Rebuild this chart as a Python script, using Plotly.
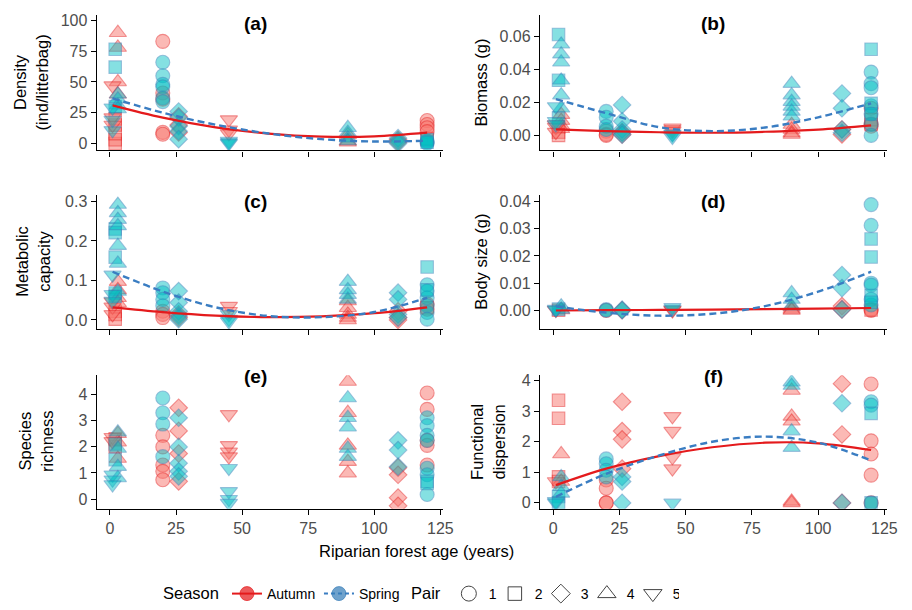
import plotly.graph_objects as go

# ---------------- data ----------------
# sites: (pair, age) in this order
SITE_PAIR = [1, 1, 2, 2, 3, 3, 4, 4, 5, 5]
SITE_AGE = [20, 120, 2, 120, 26, 109, 3, 90, 1, 45]
PAIR_LABELS = ["1", "2", "3", "4", "5"]
SEASONS = ["Autumn", "Spring"]
X_TICKS = [0, 25, 50, 75, 100, 125]

density_autumn = [[83, 41, 36, 9, 7.5], [18.6, 15.4, 12.8, 9.6], [0, 3, 8, 15, 20], [4],
                  [22, 15, 9], [3, 1], [90, 78, 50, 40], [7, 2, 1], [47, 21, 15], [19.4, 11, 8]]
density_spring = [[66, 55, 48, 46, 37, 34], [2, 1, 0], [76.6, 62, 30], [3, 1],
                  [26, 21, 14, 10, 3.5], [4.3, 2, 0], [40, 36, 31, 28], [12.8, 8.8, 4.3, 2],
                  [29, 19, 10.6], [2, 0.8, 0]]

biomass_autumn = [[0.0026, 0.0006, 0], [0.0165, 0.007, 0.0056], [0.005, 0.002, 0], [0.0096, 0.0066],
                  [0.002, 0.0005], [0.0036, 0.0006], [0.0126, 0.009, 0.006, 0.004],
                  [0.0066, 0.0036, 0.0016, 0.0006], [0.0066, 0.005, 0.002], [0.0046, 0.0036, 0.0026]]
biomass_spring = [[0.0146, 0.011, 0.0056, 0.0036], [0.0385, 0.0315, 0.029, 0.018, 0.013, 0.0066, 0],
                  [0.0614, 0.0335, 0.0106], [0.0524, 0.0195, 0.013],
                  [0.0185, 0.0086, 0.0036, 0.0016, 0.0004], [0.0255, 0.0165, 0.0036, 0.0016],
                  [0.0554, 0.0494, 0.0445, 0.0335, 0.0245, 0.0165],
                  [0.0315, 0.0245, 0.0205, 0.0176, 0.0146, 0.0116], [0.0176, 0.0086, 0.0066],
                  [0.001, 0.0005, -0.001]]

metabolic_autumn = [[0.022, 0.014, 0.006], [0.04, 0.027], [0.022, 0.014, 0.002], [0.031],
                    [0.014, 0.006], [0.022, 0.006, 0], [0.097, 0.076, 0.056, 0.043],
                    [0.048, 0.031, 0.014, 0.006, 0], [0.046, 0.033, 0.014], [0.035, 0.022]]
metabolic_spring = [[0.081, 0.069, 0.052, 0.036], [0.089, 0.073, 0.056, 0.036, 0.019, 0.002],
                    [0.23, 0.221, 0.159, 0.068, 0.06], [0.134, 0.076],
                    [0.073, 0.044, 0.022, 0.01, 0.002], [0.069, 0.052, 0.014, 0.006],
                    [0.292, 0.271, 0.254, 0.238, 0.188, 0.143, 0.072], [0.097, 0.076, 0.064, 0.052],
                    [0.114, 0.065, 0.048], [0.014, 0.002, -0.004]]

bodysize_autumn = [[0], [0.0004, 0], [0.0001], [0.0002], [0.0001], [0.0016, 0.0004], [0.0002],
                   [0.0012, 0.0004, 0], [0.0001], [0.0002, 0]]
bodysize_spring = [[0.0003, 0.0001], [0.0388, 0.0312, 0.01, 0.0093, 0.0041, 0.002], [0.0005],
                   [0.0262, 0.0196, 0.0055, 0.003], [0.0003, 0.0001], [0.013, 0.0082, 0.0004],
                   [0.0016, 0.0004], [0.0064, 0.004, 0.0016], [0.0005, 0.0002], [0.0012, 0.0005]]

richness_autumn = [[2.43, 1.99, 1.3, 1.06, 0.74], [4.04, 3.42, 2.24, 2.05, 1.3], [2.3, 2.0], [],
                   [3.48, 2.6, 1.74, 0.68], [1.2, 0.93, 0.06, -0.25], [2.49, 2.17, 1.55],
                   [4.48, 3.29, 2.05, 1.43, 0.99], [2.36, 2.2], [3.23, 2.05, 1.8, 1.62]]
richness_spring = [[3.85, 3.29, 2.86, 1.62], [3.1, 2.8, 2.43, 2.24, 1.18, 0.93, 0.18], [2.1, 1.5],
                   [0.68, 0.6], [3.1, 1.99, 1.37, 1.06, 0.87], [2.24, 1.87, 1.24],
                   [2.55, 1.93, 1.24, 0.81], [3.85, 3.1, 2.74, 1.93, 1.62], [0.93, 0.74, 0.56],
                   [1.18, 0.3, 0, -0.15]]

fdis_autumn = [[0.75, 0.48, 0, 0], [3.89, 2.03, 1.6, 0.91, 0], [3.36, 2.77, 0.85, 0.7], [],
               [3.31, 2.35, 2.08, 1.12], [3.9, 2.24, 0], [1.6, 0.7], [3.68, 2.83, 2.67, 0.05, 0],
               [0.7], [2.83, 2.35, 1.49, 1.12]]
fdis_spring = [[1.44, 1.28, 1.07, 0.85], [3.31, 3.2, 0], [0.21, 0], [2.93, 0], [0.85, 0.7, 0],
               [3.26, 0], [0.85, 0.53, 0.31], [3.95, 3.84, 2.35, 1.81], [0.05, 0], [0]]

# fitted curves
FIT_AGE = [1, 20, 40, 60, 80, 100, 120]
density_fit_autumn = [31.0, 21.0, 13.1, 8.0, 5.6, 5.8, 8.8]
density_fit_spring = [36.7, 25.0, 15.2, 8.1, 3.5, 1.6, 2.2]
biomass_fit_autumn = [0.0036, 0.0026, 0.0019, 0.0016, 0.0022, 0.0035, 0.0061]
biomass_fit_spring = [0.0221, 0.0135, 0.0050, 0.0026, 0.0048, 0.0110, 0.0195]
metabolic_fit_autumn = [0.032, 0.020, 0.011, 0.007, 0.009, 0.017, 0.032]
metabolic_fit_spring = [0.122, 0.072, 0.032, 0.010, 0.007, 0.020, 0.056]
bodysize_fit_autumn = [0.0, 0.0001, 0.0002, 0.0003, 0.0005, 0.0007, 0.0009]
bodysize_fit_spring = [0.0015, -0.0008, -0.0019, -0.0012, 0.0016, 0.0069, 0.0142]
fdis_fit_autumn = [0.58, 1.12, 1.53, 1.82, 1.97, 1.95, 1.73]
fdis_fit_spring = [0.20, 0.95, 1.55, 2.00, 2.17, 1.97, 1.39]

# ---------------- style ----------------
FONT = "Liberation Sans, Arial, Helvetica, sans-serif"
SYMBOLS = {1: "circle", 2: "square", 3: "diamond", 4: "triangle-up", 5: "triangle-down"}
SIZES = {1: 14, 2: 12.5, 3: 13.5, 4: 15, 5: 15}
AUT_FILL = "rgba(248,118,109,0.72)"
AUT_EDGE = "rgba(228,26,28,0.65)"
SPR_FILL = "rgba(0,191,196,0.68)"
SPR_EDGE = "rgba(55,126,184,0.65)"
AUT_LINE = "#E41A1C"
SPR_LINE = "#3A7DC2"

panels = [
    ("(a)", "Density<br>(ind/litterbag)", density_autumn, density_spring,
     density_fit_autumn, density_fit_spring, [-5.6, 104.5], [0, 25, 50, 75, 100], None),
    ("(b)", "Biomass (g)", biomass_autumn, biomass_spring,
     biomass_fit_autumn, biomass_fit_spring, [-0.0091, 0.0733], [0, 0.02, 0.04, 0.06], ".2f"),
    ("(c)", "Metabolic<br>capacity", metabolic_autumn, metabolic_spring,
     metabolic_fit_autumn, metabolic_fit_spring, [-0.023, 0.3174], [0, 0.1, 0.2, 0.3], ".1f"),
    ("(d)", "Body size (g)", bodysize_autumn, bodysize_spring,
     bodysize_fit_autumn, bodysize_fit_spring, [-0.0068, 0.0425], [0, 0.01, 0.02, 0.03, 0.04], ".2f"),
    ("(e)", "Species<br>richness", richness_autumn, richness_spring,
     None, None, [-0.36, 4.72], [0, 1, 2, 3, 4], None),
    ("(f)", "Functional<br>dispersion", fdis_autumn, fdis_spring,
     fdis_fit_autumn, fdis_fit_spring, [-0.19, 4.18], [0, 1, 2, 3, 4], None),
]

# the page body has an 8px margin, so the figure is 8px smaller and offset
OFF = 8
W, H = 912 - OFF, 610 - OFF


def px(x):
    return (x - OFF) / W


def py(y):
    return 1 - (y - OFF) / H


X_DOM = [[px(96.7), px(443)], [px(540), px(887)]]
ROWS_PX = [(15, 153), (198, 335), (382, 518)]
Y_DOM = [[py(b), py(t)] for t, b in ROWS_PX]
TITLE_X_PX = [255, 713]
TITLE_Y_PX = [24, 205, 383]
YLAB_X_PX = [[31, 481], [33, 481], [36, 488]]


def expand(groups):
    xs, ys, sym, sz = [], [], [], []
    for i, vals in enumerate(groups):
        for v in vals:
            xs.append(SITE_AGE[i])
            ys.append(v)
            sym.append(SYMBOLS[SITE_PAIR[i]])
            sz.append(SIZES[SITE_PAIR[i]])
    return xs, ys, sym, sz


fig = go.Figure()
layout = {}
annotations = []

for k, (tag, ylab, aut, spr, fa, fs, yr, yt, fmt) in enumerate(panels):
    row, col = k // 2, k % 2
    n = k + 1
    xa = "x" if n == 1 else f"x{n}"
    ya = "y" if n == 1 else f"y{n}"
    for groups, fill, edge in ((aut, AUT_FILL, AUT_EDGE), (spr, SPR_FILL, SPR_EDGE)):
        xs, ys, sym, sz = expand(groups)
        fig.add_trace(go.Scatter(
            x=xs, y=ys, mode="markers", xaxis=xa, yaxis=ya, showlegend=False,
            marker=dict(symbol=sym, size=sz, color=fill, line=dict(color=edge, width=1.1)),
            hoverinfo="skip"))
    if fa is not None:
        fig.add_trace(go.Scatter(x=FIT_AGE, y=fa, mode="lines", xaxis=xa, yaxis=ya,
                                 showlegend=False, line=dict(color=AUT_LINE, width=2.2,
                                                             shape="spline", smoothing=1.0)))
        fig.add_trace(go.Scatter(x=FIT_AGE, y=fs, mode="lines", xaxis=xa, yaxis=ya,
                                 showlegend=False, line=dict(color=SPR_LINE, width=2.4,
                                                             dash="7px,4px", shape="spline",
                                                             smoothing=1.0)))
    axx = dict(domain=X_DOM[col], anchor=ya, range=[-5, 126], tickvals=X_TICKS,
               showticklabels=(row == 2), ticks="outside", ticklen=5, tickwidth=1.2,
               tickcolor="black", showline=True, linecolor="black", linewidth=1.3,
               showgrid=False, zeroline=False, automargin=False,
               tickfont=dict(family=FONT, size=16, color="#4D4D4D"))
    axy = dict(domain=Y_DOM[row], anchor=xa, range=yr, tickvals=yt, ticks="outside",
               ticklen=5, tickwidth=1.2, tickcolor="black", showline=True, linecolor="black",
               linewidth=1.3, showgrid=False, zeroline=False, automargin=False,
               tickfont=dict(family=FONT, size=16, color="#4D4D4D"))
    if fmt:
        axy["tickformat"] = fmt
    layout["xaxis" if n == 1 else f"xaxis{n}"] = axx
    layout["yaxis" if n == 1 else f"yaxis{n}"] = axy

    annotations.append(dict(text=f"<b>{tag}</b>", x=px(TITLE_X_PX[col]),
                            y=py(TITLE_Y_PX[row]), xref="paper", yref="paper",
                            showarrow=False, xanchor="center", yanchor="middle",
                            font=dict(family=FONT, size=19, color="black")))
    ymid = (ROWS_PX[row][0] + ROWS_PX[row][1]) / 2
    annotations.append(dict(text=ylab, x=px(YLAB_X_PX[row][col]), y=py(ymid),
                            xref="paper", yref="paper", showarrow=False, textangle=-90,
                            xanchor="center", yanchor="middle", align="center",
                            font=dict(family=FONT, size=16.5, color="black")))

annotations.append(dict(text="Riparian forest age (years)", x=px(416), y=py(561),
                        xref="paper", yref="paper", showarrow=False, xanchor="center",
                        yanchor="middle", font=dict(family=FONT, size=16.5, color="black")))

# legend entries
fig.add_trace(go.Scatter(x=[None], y=[None], mode="lines+markers", name=SEASONS[0],
                         legend="legend", legendwidth=47,
                         marker=dict(symbol="circle", size=14, color="rgba(228,26,28,0.72)",
                                     line=dict(color="rgba(228,26,28,0.7)", width=1)),
                         line=dict(color=AUT_LINE, width=2)))
fig.add_trace(go.Scatter(x=[None], y=[None], mode="lines+markers", name=SEASONS[1],
                         legend="legend",
                         marker=dict(symbol="circle", size=14, color="rgba(55,126,184,0.72)",
                                     line=dict(color="rgba(55,126,184,0.7)", width=1)),
                         line=dict(color=SPR_LINE, width=2, dash="4px,3px")))
for p, lab in zip([1, 2, 3, 4, 5], PAIR_LABELS):
    fig.add_trace(go.Scatter(x=[None], y=[None], mode="markers", name=lab, legend="legend2",
                             legendwidth=1,
                             marker=dict(symbol=SYMBOLS[p] + "-open", size=SIZES[p] + 1,
                                         color="#444", line=dict(width=1))))

layout.update(
    width=W, height=H, margin=dict(l=0, r=0, t=0, b=0),
    paper_bgcolor="white", plot_bgcolor="white",
    font=dict(family=FONT, color="black"),
    annotations=annotations,
    legend=dict(title=dict(text="Season", side="left", font=dict(size=16.5)),
                orientation="h", x=px(161), y=py(605), xanchor="left", yanchor="middle",
                font=dict(size=14), itemwidth=30, bgcolor="rgba(0,0,0,0)"),
    legend2=dict(title=dict(text="Pair", side="left", font=dict(size=16.5)),
                 orientation="h", x=px(409), y=py(605), xanchor="left", yanchor="middle",
                 font=dict(size=14), itemwidth=30, bgcolor="rgba(0,0,0,0)"),
)
fig.update_layout(**layout)
fig.write_html("out.html")
